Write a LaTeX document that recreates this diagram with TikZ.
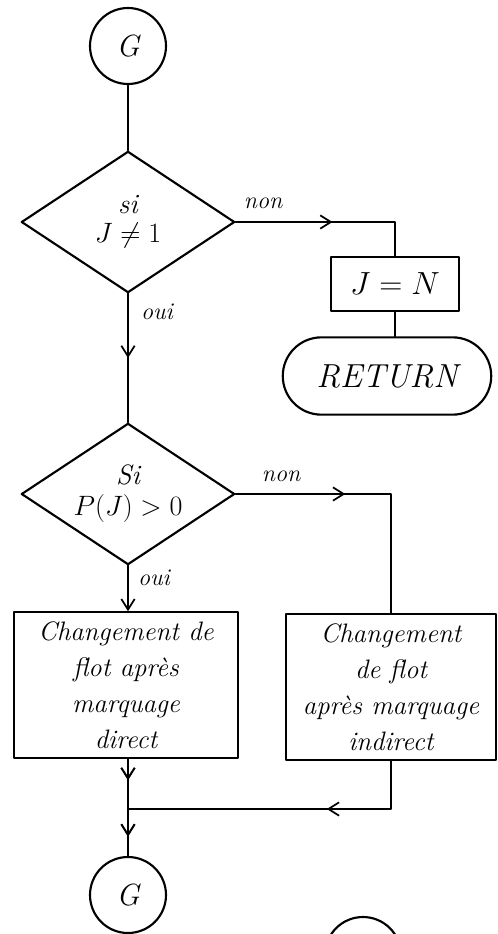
\RequirePackage{fix-cm}
\documentclass[tikz,border=0pt]{standalone}
\usetikzlibrary{arrows.meta,shapes.geometric,shapes.misc,decorations.markings}

\tikzset{
  flow/.style={line width=1.6pt, line cap=round, line join=round},
  connector/.style={circle, draw, flow, minimum size=57pt, inner sep=0pt,
    font=\fontsize{23}{24}\selectfont\itshape},
  test/.style={diamond, draw, flow, aspect=1.5, inner sep=0pt,
    minimum width=160pt, minimum height=106pt,
    font=\fontsize{21}{26}\selectfont\itshape},
  action/.style={rectangle, draw, flow, inner sep=2pt, align=center,
    font=\fontsize{20}{27}\selectfont\itshape},
  terminal/.style={rounded rectangle, draw, flow, minimum width=163pt,
    minimum height=58pt, font=\fontsize{25}{28}\selectfont\itshape},
  branch/.style={font=\fontsize{18}{20}\selectfont\itshape, inner sep=1pt},
  midarrow/.style={postaction={decorate}, decoration={markings,
    mark=at position #1 with {\arrow[line width=1.3pt]{Straight Barb[length=8pt,width=10pt]}}}},
  endarrow/.style={-{Straight Barb[length=8pt,width=10pt,line width=1.3pt]}}
}

\begin{document}
\begin{tikzpicture}[x=0.75pt, y=-0.75pt]
  \useasboundingbox (0,0) rectangle (497,934);

  % main column
  \node[connector] (g1) at (128,46) {G};
  \node[test] (d1) at (128,222) {\raisebox{4pt}{\shortstack{si\\[4pt]$J \neq 1$}}};
  \node[test] (d2) at (128,494) {\shortstack{Si\\[4pt]$P(J)>0$}};
  \node[action, minimum width=168pt, minimum height=109pt] (b1) at (126,685)
    {Changement de\\flot après\\marquage\\direct};
  \node[connector] (g2) at (128,895) {G};

  % right-hand branches
  \node[action, minimum width=96pt, minimum height=40pt,
        font=\fontsize{24}{26}\selectfont\itshape] (jn) at (395,284) {$J= N$};
  \node[terminal] (ret) at (387,376) {RETURN};
  \node[action, minimum width=158pt, minimum height=110pt] (b2) at (391,687)
    {Changement\\de flot\\après marquage\\indirect};

  \coordinate (jc) at (128,809);

  % connectors
  \draw[flow] (g1) -- (d1);
  \draw[flow, midarrow=0.5] (d1.east) -| (jn.north);
  \draw[flow] (jn.south) -- (jn.south |- ret.north);
  \draw[flow, midarrow=0.5] (d1.south) -- (d2.north);
  \draw[flow, midarrow=0.4] (d2.east) -| (b2.north);
  \draw[flow, endarrow] (d2.south) -- (d2.south |- b1.north);
  \draw[flow, midarrow=0.22, midarrow=0.8] (b1.south -| g2.north) -- (g2.north);
  \draw[flow, midarrow=0.36] (b2.south) |- (jc);

  % branch labels
  \node[branch] (n1) at (263,203) {non};
  \node[branch] (o1) at (157,312) {oui};
  \node[branch] (n2) at (281,476) {non};
  \node[branch] (o2) at (154,578) {oui};

  % next connector, cut by the page edge
  \begin{scope}
    \clip (0,0) rectangle (497,934);
    \draw[flow] (363,955) circle[radius=28.5pt];
  \end{scope}
\end{tikzpicture}
\end{document}
